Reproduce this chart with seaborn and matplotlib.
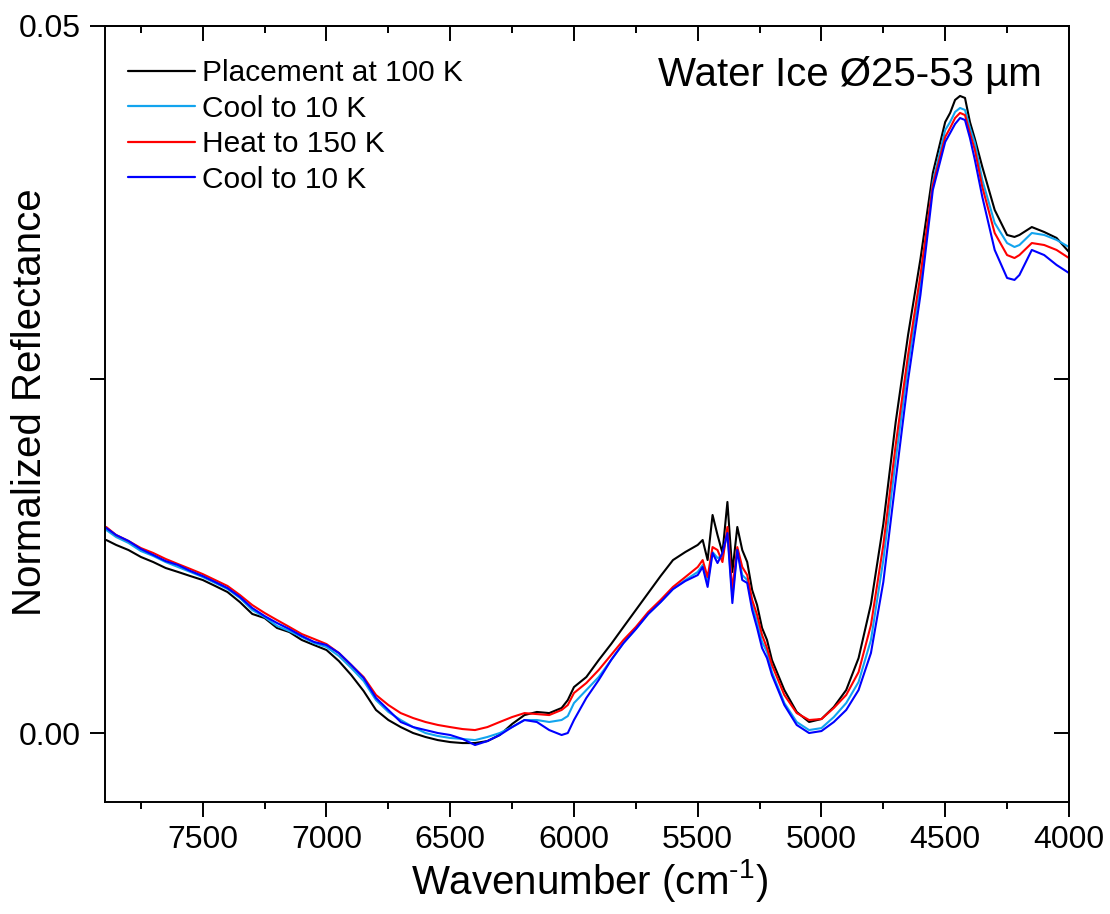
import numpy as np
import pandas as pd
import matplotlib
matplotlib.use("Agg")
import matplotlib.pyplot as plt
import seaborn as sns
from matplotlib.ticker import MultipleLocator, FuncFormatter

# ---------------- data (reflectance in units of 1e-3) ----------------
wavenumber = [7890, 7850, 7800, 7750, 7700, 7650, 7600, 7550, 7500, 7450, 7400, 7350, 7300, 7250,
              7200, 7150, 7100, 7050, 7000, 6950, 6900, 6850, 6800, 6750, 6700, 6650, 6600, 6550,
              6500, 6450, 6400, 6350, 6300, 6250, 6200, 6150, 6100, 6050, 6025, 6000, 5950, 5900,
              5850, 5800, 5750, 5700, 5650, 5600, 5550, 5500, 5480, 5460, 5440, 5420, 5400, 5380,
              5360, 5340, 5320, 5300, 5280, 5260, 5240, 5220, 5200, 5150, 5100, 5050, 5000, 4950,
              4900, 4850, 4800, 4750, 4700, 4650, 4600, 4550, 4500, 4480, 4460, 4440, 4420, 4400,
              4380, 4350, 4300, 4250, 4220, 4200, 4150, 4100, 4050, 4000]

placement_100K = [13.65, 13.30, 12.94, 12.45, 12.09, 11.67, 11.39, 11.10, 10.82, 10.40, 9.97, 9.26, 8.42, 8.13,
                  7.43, 7.14, 6.58, 6.22, 5.87, 5.09, 4.10, 2.97, 1.63, 0.92, 0.42, 0.00, -0.28, -0.50,
                  -0.64, -0.71, -0.71, -0.57, -0.14, 0.64, 1.27, 1.49, 1.41, 1.77, 2.33, 3.25, 3.96, 5.16,
                  6.29, 7.50, 8.70, 9.90, 11.10, 12.23, 12.80, 13.30, 13.65, 12.23, 15.42, 14.00, 12.73, 16.34,
                  11.39, 14.57, 12.94, 12.09, 10.11, 9.05, 7.43, 6.58, 5.16, 3.04, 1.49, 0.78, 0.99, 1.84,
                  3.04, 5.30, 9.12, 14.78, 21.99, 28.15, 33.52, 39.60, 43.21, 43.85, 44.77, 45.05, 44.91, 43.21,
                  42.01, 40.03, 36.99, 35.22, 35.08, 35.22, 35.78, 35.43, 35.01, 34.02]

cool_10K_a = [14.36, 13.86, 13.44, 12.87, 12.52, 12.09, 11.74, 11.39, 11.03, 10.61, 10.18, 9.55, 8.70, 8.20,
              7.57, 7.21, 6.79, 6.36, 6.08, 5.45, 4.60, 3.68, 2.33, 1.49, 0.92, 0.42, 0.00, -0.21,
              -0.35, -0.42, -0.50, -0.28, 0.00, 0.42, 0.92, 0.92, 0.78, 0.92, 1.20, 2.12, 3.04, 3.96,
              5.16, 6.36, 7.35, 8.42, 9.26, 10.18, 10.82, 11.39, 11.88, 10.68, 12.80, 12.38, 12.52, 14.21,
              9.69, 12.94, 11.17, 10.82, 9.05, 7.85, 6.44, 5.73, 4.31, 2.12, 0.78, 0.21, 0.35, 1.13,
              2.12, 3.61, 6.58, 12.23, 19.31, 26.02, 31.68, 38.97, 42.64, 43.21, 43.92, 44.20, 44.06, 42.79,
              41.72, 39.11, 36.07, 34.65, 34.37, 34.51, 35.36, 35.22, 34.87, 34.37]

heat_150K = [14.57, 14.00, 13.58, 13.08, 12.73, 12.31, 11.95, 11.60, 11.24, 10.82, 10.40, 9.76, 9.05, 8.49,
             7.99, 7.50, 7.00, 6.65, 6.29, 5.66, 4.81, 3.96, 2.69, 1.98, 1.41, 1.06, 0.78, 0.57,
             0.42, 0.28, 0.21, 0.42, 0.78, 1.13, 1.41, 1.34, 1.27, 1.63, 1.98, 2.83, 3.54, 4.46,
             5.52, 6.58, 7.50, 8.56, 9.41, 10.33, 11.03, 11.74, 12.23, 11.03, 13.15, 12.94, 12.09, 14.57,
             10.11, 13.15, 11.74, 11.17, 9.41, 8.35, 6.93, 6.01, 4.81, 2.69, 1.41, 0.92, 0.99, 1.77,
             2.69, 4.31, 7.64, 13.30, 20.37, 26.73, 32.39, 38.75, 42.15, 42.79, 43.49, 43.85, 43.70, 42.43,
             41.23, 38.61, 35.36, 33.80, 33.59, 33.80, 34.65, 34.51, 34.16, 33.59]

cool_10K_b = [14.50, 14.00, 13.58, 13.01, 12.59, 12.16, 11.88, 11.46, 11.10, 10.68, 10.25, 9.62, 8.84, 8.27,
              7.78, 7.35, 6.86, 6.44, 6.22, 5.66, 4.81, 3.89, 2.48, 1.63, 0.78, 0.42, 0.21, 0.00,
              -0.14, -0.42, -0.85, -0.57, -0.14, 0.42, 0.92, 0.78, 0.21, -0.14, 0.00, 0.92, 2.48, 3.75,
              5.16, 6.36, 7.35, 8.42, 9.26, 10.18, 10.75, 11.17, 11.74, 10.33, 12.73, 12.02, 12.73, 14.14,
              9.19, 12.94, 10.82, 10.61, 8.70, 7.43, 6.01, 5.30, 4.10, 1.98, 0.57, 0.00, 0.14, 0.78,
              1.63, 3.04, 5.66, 10.68, 17.89, 24.96, 30.98, 38.40, 41.80, 42.43, 43.07, 43.49, 43.35, 42.08,
              40.52, 37.91, 34.16, 32.18, 32.04, 32.39, 34.16, 33.80, 33.10, 32.53]

series_labels = ["Placement at 100 K", "Cool to 10 K", "Heat to 150 K", "Cool to 10 K"]
series_values = [placement_100K, cool_10K_a, heat_150K, cool_10K_b]
series_colors = ["#000000", "#12A4EE", "#FF0000", "#0000FF"]

x_major = [4000, 4500, 5000, 5500, 6000, 6500, 7000, 7500]
y_major = [0.0, 0.025, 0.05]
y_labeled = [0.0, 0.05]

# ---------------- style ----------------
sns.set_theme(style="ticks")
plt.rcParams["font.family"] = ["Liberation Sans", "DejaVu Sans"]
plt.rcParams["mathtext.fontset"] = "custom"
plt.rcParams["mathtext.rm"] = "Liberation Sans"
plt.rcParams["mathtext.default"] = "regular"
plt.rcParams["text.color"] = "black"
plt.rcParams["axes.labelcolor"] = "black"
plt.rcParams["xtick.color"] = "black"
plt.rcParams["ytick.color"] = "black"

fig = plt.figure(figsize=(11.1, 9.14), dpi=100)
ax = fig.add_axes([0.0946, 0.1225, 0.8684, 0.8491])

for lab, vals, col in zip(series_labels, series_values, series_colors):
    df = pd.DataFrame({"wn": wavenumber, "R": np.array(vals) * 1e-3})
    sns.lineplot(data=df, x="wn", y="R", ax=ax, color=col, linewidth=1.5,
                 label=lab, estimator=None, sort=False)

ax.set_xlim(7895, 4000)
ax.set_ylim(-0.00488, 0.05)

lw = 1.4
for sp in ax.spines.values():
    sp.set_linewidth(lw)
    sp.set_color("black")

ax.set_xticks(x_major)
ax.xaxis.set_minor_locator(MultipleLocator(250))
ax.set_yticks(y_major)
ax.yaxis.set_major_formatter(FuncFormatter(
    lambda v, p: f"{v:.2f}" if any(abs(v - t) < 1e-9 for t in y_labeled) else ""))
ax.tick_params(axis="x", which="major", direction="out", length=10.8, width=lw,
               labelsize=23, pad=6, top=False)
ax.tick_params(axis="x", which="minor", direction="out", length=5.2, width=lw, top=False)
ax.tick_params(axis="y", which="major", direction="out", length=10.8, width=lw,
               labelsize=23, pad=7, right=False)

secx = ax.secondary_xaxis("top")
secx.set_xticks(x_major)
secx.xaxis.set_minor_locator(MultipleLocator(250))
secx.tick_params(axis="x", which="major", direction="in", length=10.8, width=lw, labeltop=False)
secx.tick_params(axis="x", which="minor", direction="in", length=5.2, width=lw)
secx.spines["top"].set_linewidth(lw)

secy = ax.secondary_yaxis("right")
secy.set_yticks(y_major)
secy.tick_params(axis="y", which="major", direction="in", length=10.8, width=lw, labelright=False)
secy.spines["right"].set_linewidth(lw)

ax.set_xlabel(r"Wavenumber (cm$^{\text{-}1}$)", fontsize=29, va="center")
ax.xaxis.set_label_coords(0.503, -0.1005)
ax.set_ylabel("Normalized Reflectance", fontsize=29, va="center")
ax.yaxis.set_label_coords(-0.078, 0.515)

ax.text(0.972, 0.937, "Water Ice Ø25-53 µm", transform=ax.transAxes,
        ha="right", va="center", fontsize=29)

leg = ax.legend(loc="upper left", bbox_to_anchor=(0.024, 0.957), frameon=False,
                fontsize=21.5, handlelength=2.24, handletextpad=0.25, labelspacing=0.25,
                borderpad=0, borderaxespad=0, labelcolor="black")
for h in leg.get_lines():
    h.set_linewidth(1.6)

fig.savefig("out.png", dpi=100)
